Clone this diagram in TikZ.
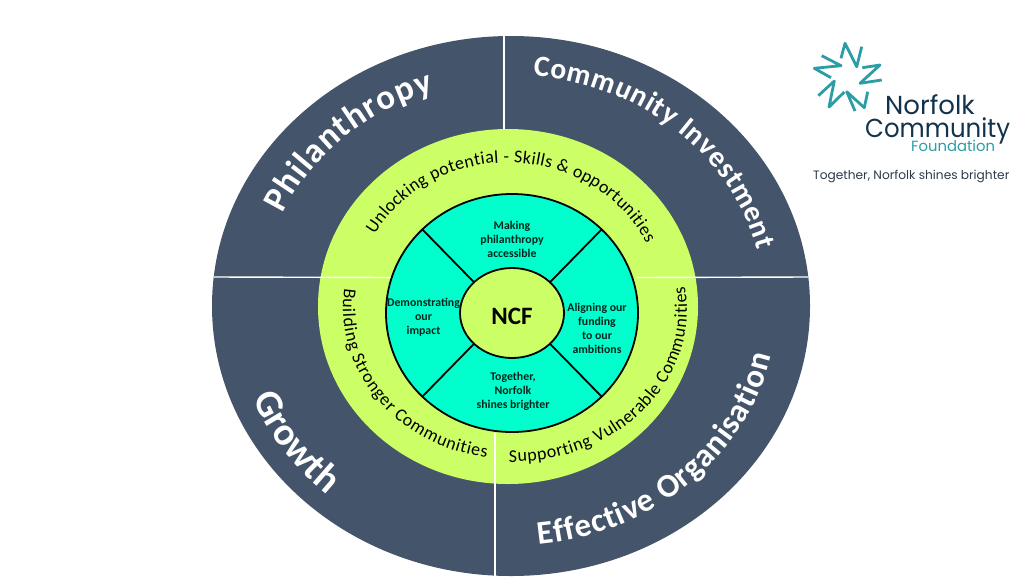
\documentclass[tikz,border=0pt]{standalone}
\usepackage{fontspec}
\setmainfont{Carlito}
\newfontfamily\logofont{Poppins}
\usetikzlibrary{shapes.geometric,decorations.text}
\definecolor{slate}{HTML}{44546A}
\definecolor{lime}{HTML}{CCFF66}
\definecolor{aqua}{HTML}{00FFCC}
\definecolor{lteal}{HTML}{2A9DA5}
\definecolor{lnavy}{HTML}{12334D}
\definecolor{ldark}{HTML}{2B3A48}
\newcommand{\arctext}[7]{%
  \path[decorate,decoration={text along path,text align=fit to path,text={|#6|#7}}]
    (#1) ++(#4:#2 and #3) arc[start angle=#4,end angle=#5,x radius=#2,y radius=#3];}
\tikzset{
  disc/.style={ellipse,inner sep=0pt,outer sep=0pt},
  seam/.style={white,line width=1.4pt},
  spoke/.style={black,line width=1.8pt},
  lab/.style={font=\fontsize{11.8}{14}\selectfont\bfseries,align=center,text=black!85!aqua,inner sep=0pt},
  zig/.style={lteal,line width=2.8pt,line join=round,line cap=butt},
  logo/.style={inner sep=0pt,anchor=base west}
}
\begin{document}
\begin{tikzpicture}[x=1pt,y=-1pt]
\useasboundingbox (0,0) rectangle (1024,576);
\node[disc,fill=slate,minimum width=598pt,minimum height=540pt] (outer) at (511,306) {};
\node[disc,fill=lime,minimum width=380pt,minimum height=355pt] (green) at (508,306.5) {};
\coordinate (st) at (504,36); \coordinate (sb) at (504,129);
\coordinate (bt) at (495,433); \coordinate (bb) at (495,576);
\coordinate (lw) at (214,277); \coordinate (le) at (392,277.5);
\coordinate (rw) at (637,277.5); \coordinate (re) at (808,277);
\draw[seam] (st) -- (sb);
\draw[seam] (bt) -- (bb);
\draw[seam] (lw) -- (le);
\draw[seam] (rw) -- (re);
\node[disc,fill=aqua,draw=black,line width=1.8pt,minimum width=252pt,minimum height=238pt] (ring) at (512,313) {};
\node[disc,fill=lime,draw=black,line width=1.8pt,minimum width=104pt,minimum height=90pt] (ncf) at (512,313) {};
\draw[spoke] (ncf.141) -- (ring.137);
\draw[spoke] (ncf.39) -- (ring.43);
\draw[spoke] (ncf.219) -- (ring.223);
\draw[spoke] (ncf.321) -- (ring.317);
\node[inner sep=0pt,font=\fontsize{25}{26}\selectfont\bfseries] (ncft) at (512,316) {NCF};
\node[lab] (t1) at (512,239) {Making\\philanthropy\\accessible};
\node[lab] (t2) at (423.5,317) {Demonstrating\\our\\impact};
\node[lab] (t3) at (597,328) {Aligning our\\funding\\to our\\ambitions};
\node[lab] (t4) at (513,391) {Together,\\Norfolk\\shines brighter};
% curved titles
\arctext{511,306}{250}{226}{-156}{-108}{\fontsize{35}{35}\selectfont\bfseries\color{white}}{Philanthropy}
\arctext{511,306}{254}{231}{-85}{-14}{\fontsize{29.5}{30}\selectfont\bfseries\color{white}}{Community Investment}
\arctext{511,306}{278}{252}{-201.5}{-228.5}{\fontsize{39}{39}\selectfont\bfseries\color{white}}{Growth}
\arctext{511,306}{266}{240}{84}{12}{\fontsize{33}{33}\selectfont\bfseries\color{white}}{Effective Organisation}
\arctext{508,306.5}{154}{144}{-150}{-26}{\fontsize{18}{18}\selectfont\color{black}}{Unlocking potential - Skills {\&} opportunities}
\arctext{512,310}{175}{152}{91}{-9}{\fontsize{18}{18}\selectfont\color{black}}{Supporting Vulnerable Communities}
\arctext{510,308}{167}{151}{187.5}{98}{\fontsize{18}{18}\selectfont\color{black}}{Building Stronger Communities}
% logo
\draw[zig] (841,58.3) -- (845,43.3) -- (856.7,66.7) -- (861.7,46.7);
\draw[zig] (862.3,67.7) -- (880,65) -- (860,83.3) -- (881.7,80);
\draw[zig] (867.7,91.7) -- (864.3,107.7) -- (846.7,91.7) -- (855,111);
\draw[zig] (818.3,95.7) -- (834.3,81) -- (829,107) -- (844.3,92);
\draw[zig] (821.7,55.7) -- (841,65.7) -- (814.3,68.3) -- (831,77.7);
\node[logo,text=lnavy,font=\logofont\fontsize{26}{27}\selectfont] (l1) at (885,114) {Norfolk};
\node[logo,text=lnavy,font=\logofont\fontsize{26}{27}\selectfont,xscale=0.94] (l2) at (865,137) {Community};
\node[logo,text=lteal,font=\logofont\fontsize{14.8}{15}\selectfont] (l3) at (911,151) {Foundation};
\node[logo,text=ldark,font=\logofont\fontsize{12.2}{13}\selectfont] (l4) at (813,179) {Together, Norfolk shines brighter};
\end{tikzpicture}
\end{document}
